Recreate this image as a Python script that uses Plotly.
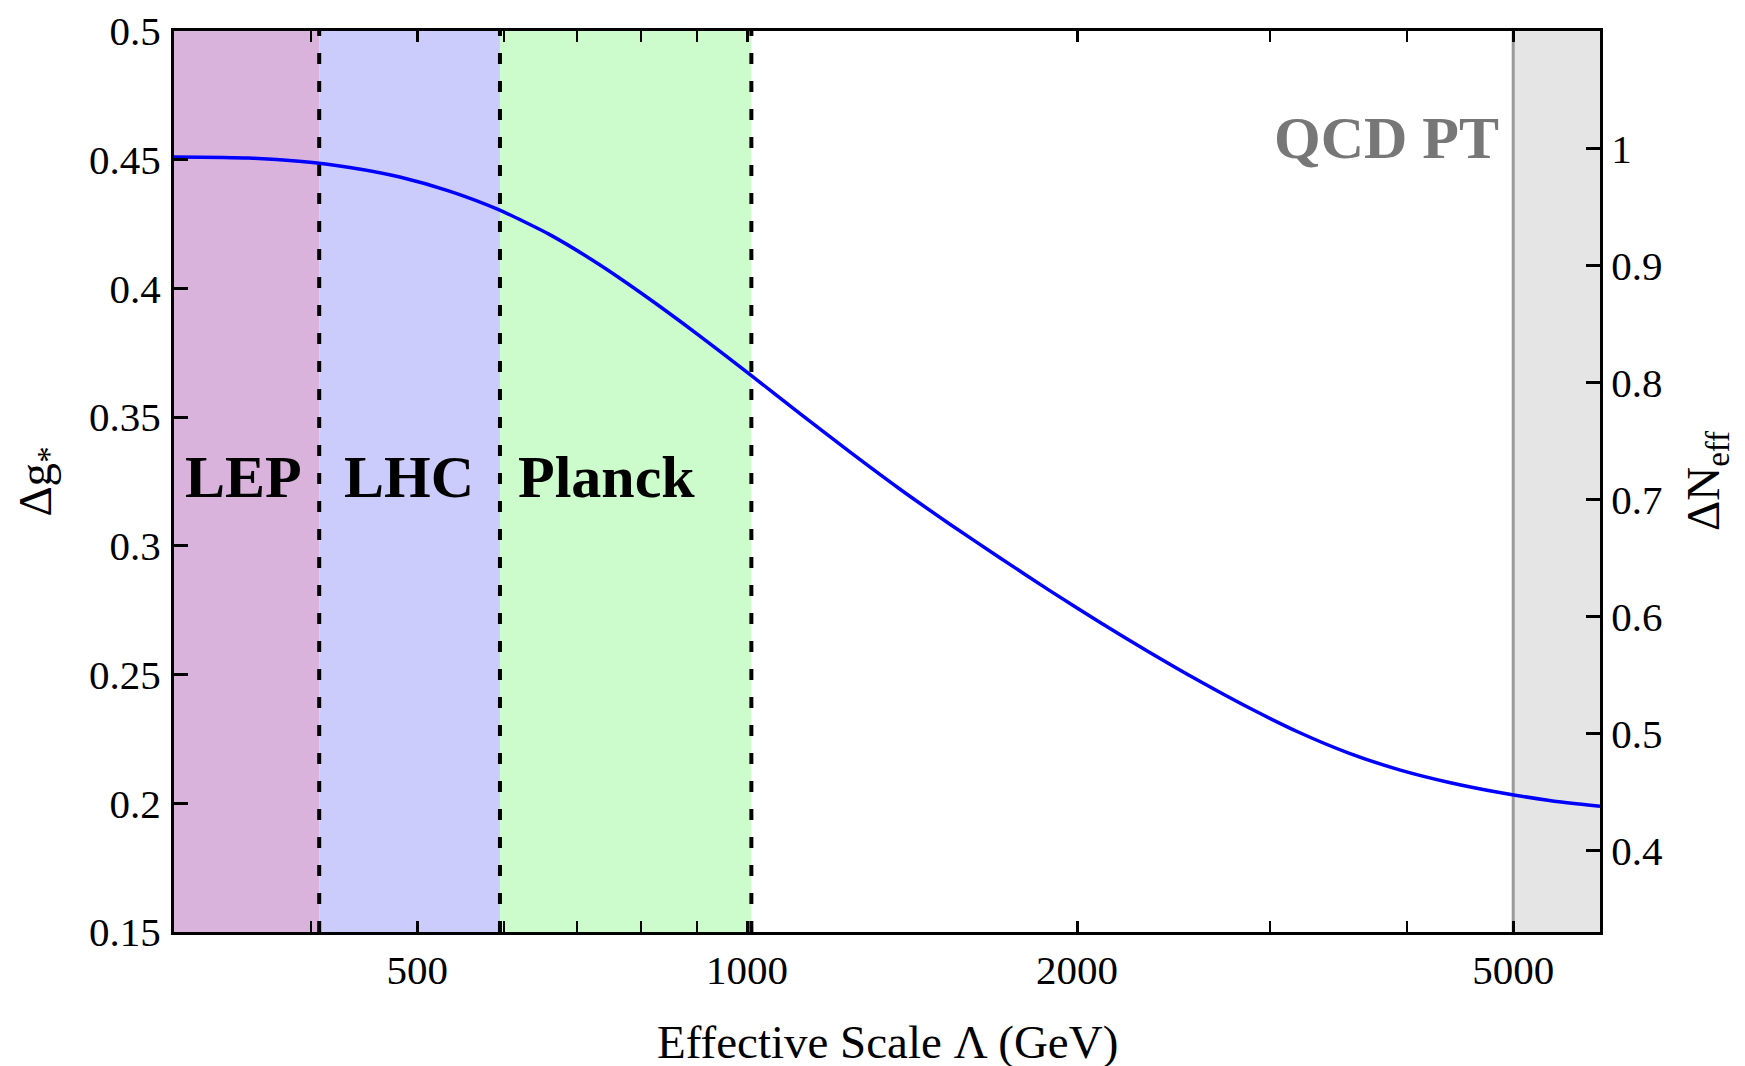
import numpy as np
import plotly.graph_objects as go

# ---- data ----
scale_gev = [300, 351, 390, 434, 482, 535, 594, 660, 733, 814, 905, 1005,
             1116, 1240, 1377, 1529, 1699, 1887, 2096, 2328, 2586, 2873,
             3190, 3544, 3937, 4372, 4858, 5396, 6000]
delta_g = [0.4511, 0.4507, 0.4494, 0.4470, 0.4433, 0.4378, 0.4305, 0.4210,
           0.4093, 0.3960, 0.3816, 0.3667, 0.3516, 0.3366, 0.3222, 0.3086,
           0.2955, 0.2827, 0.2704, 0.2587, 0.2475, 0.2370, 0.2275, 0.2194,
           0.2130, 0.2081, 0.2042, 0.2011, 0.1988]

band_names = ["LEP", "LHC", "Planck"]
band_edges = [300, 407, 595, 1009]          # band boundaries (GeV)
label_x = [347, 491, 744]                   # label centres (GeV)
qcd_range = [5000, 6000]
x_range = [300, 6000]
y_range = [0.15, 0.5]
x_ticks = [500, 1000, 2000, 5000]
x_minor = [300, 400, 600, 700, 800, 900, 3000, 4000]
y_ticks = [0.15, 0.2, 0.25, 0.3, 0.35, 0.4, 0.45, 0.5]
y_ticktext = ["0.15", "0.2", "0.25", "0.3", "0.35", "0.4", "0.45", "0.5"]
y2_ticks = [0.4, 0.5, 0.6, 0.7, 0.8, 0.9, 1.0]
y2_ticktext = ["0.4", "0.5", "0.6", "0.7", "0.8", "0.9", "1"]
k_neff = (4 / 7) * (11 / 4) ** (4 / 3)      # ΔN_eff = k * Δg

band_colors = ["#d9b3db", "#ccccfc", "#ccfccc"]
FONT = "Liberation Serif"

fig = go.Figure()

# shaded bands
for i, name in enumerate(band_names):
    fig.add_shape(type="rect", xref="x", yref="paper",
                  x0=band_edges[i], x1=band_edges[i + 1], y0=0, y1=1,
                  fillcolor=band_colors[i], line_width=0, layer="below")
fig.add_shape(type="rect", xref="x", yref="paper",
              x0=qcd_range[0], x1=qcd_range[1], y0=0, y1=1,
              fillcolor="#e5e5e5", line_width=0, layer="below")
fig.add_shape(type="line", xref="x", yref="paper",
              x0=qcd_range[0], x1=qcd_range[0], y0=0, y1=1,
              line=dict(color="#9a9a9a", width=3), layer="below")
# dashed boundaries
for e in band_edges[1:]:
    fig.add_shape(type="line", xref="x", yref="paper", x0=e, x1=e, y0=0, y1=1,
                  line=dict(color="black", width=4, dash="11px,17px"),
                  layer="below")

# main curve
fig.add_trace(go.Scatter(x=scale_gev, y=delta_g, mode="lines",
                         line=dict(color="#0000ff", width=3.5, shape="spline",
                                   smoothing=0.6),
                         hoverinfo="skip", showlegend=False))
# same curve on the ΔN_eff axis (invisible) so the right axis renders
fig.add_trace(go.Scatter(x=scale_gev, y=[k_neff * g for g in delta_g],
                         mode="lines", yaxis="y2",
                         line=dict(color="rgba(0,0,0,0)", width=0),
                         hoverinfo="skip", showlegend=False))

for name, lx in zip(band_names, label_x):
    fig.add_annotation(x=np.log10(lx), y=0.3266, xref="x", yref="y",
                       text="<b>%s</b>" % name, showarrow=False,
                       xanchor="center", yanchor="middle",
                       font=dict(family=FONT, size=60, color="black"))
fig.add_annotation(x=np.log10(3828), y=0.4584, xref="x", yref="y",
                   text="<b>QCD PT</b>", showarrow=False,
                   xanchor="center", yanchor="middle",
                   font=dict(family=FONT, size=60, color="#777777"))

# axis titles
fig.add_annotation(x=0.5, y=-0.1226, xref="paper", yref="paper",
                   xanchor="center", yanchor="middle",
                   text="Effective Scale Λ (GeV)", showarrow=False,
                   font=dict(family=FONT, size=47, color="black"))
fig.add_annotation(x=-0.0953, y=0.5, xref="paper", yref="paper", textangle=-90,
                   xanchor="center", yanchor="middle",
                   text="Δg<sub>*</sub>", showarrow=False,
                   font=dict(family=FONT, size=47, color="black"))
fig.add_annotation(x=1.0747, y=0.5, xref="paper", yref="paper", textangle=-90,
                   xanchor="center", yanchor="middle",
                   text="ΔN<sub>eff</sub>", showarrow=False,
                   font=dict(family=FONT, size=47, color="black"))

axis_common = dict(showgrid=False, zeroline=False, linecolor="black",
                   linewidth=3, ticks="inside", tickcolor="black",
                   tickwidth=3, automargin=False,
                   tickfont=dict(family=FONT, size=41, color="black"))

fig.update_layout(
    width=1745, height=1066,
    margin=dict(l=166, r=153, t=23, b=142),
    paper_bgcolor="white", plot_bgcolor="white",
    xaxis=dict(type="log", range=[np.log10(x_range[0]), np.log10(x_range[1])],
               tickvals=x_ticks, ticktext=[str(v) for v in x_ticks],
               ticklen=11, mirror="allticks", ticklabelstandoff=0,
               minor=dict(tickvals=x_minor, ticks="inside", ticklen=5,
                          tickwidth=2, tickcolor="black"),
               **axis_common),
    yaxis=dict(range=y_range, tickvals=y_ticks, ticktext=y_ticktext,
               ticklen=14, ticklabelstandoff=2, **axis_common),
    yaxis2=dict(range=[k_neff * y_range[0], k_neff * y_range[1]],
                overlaying="y", side="right",
                tickvals=y2_ticks, ticktext=y2_ticktext,
                ticklen=14, ticklabelstandoff=0, **axis_common),
    showlegend=False,
)

fig.write_html("out.html")
